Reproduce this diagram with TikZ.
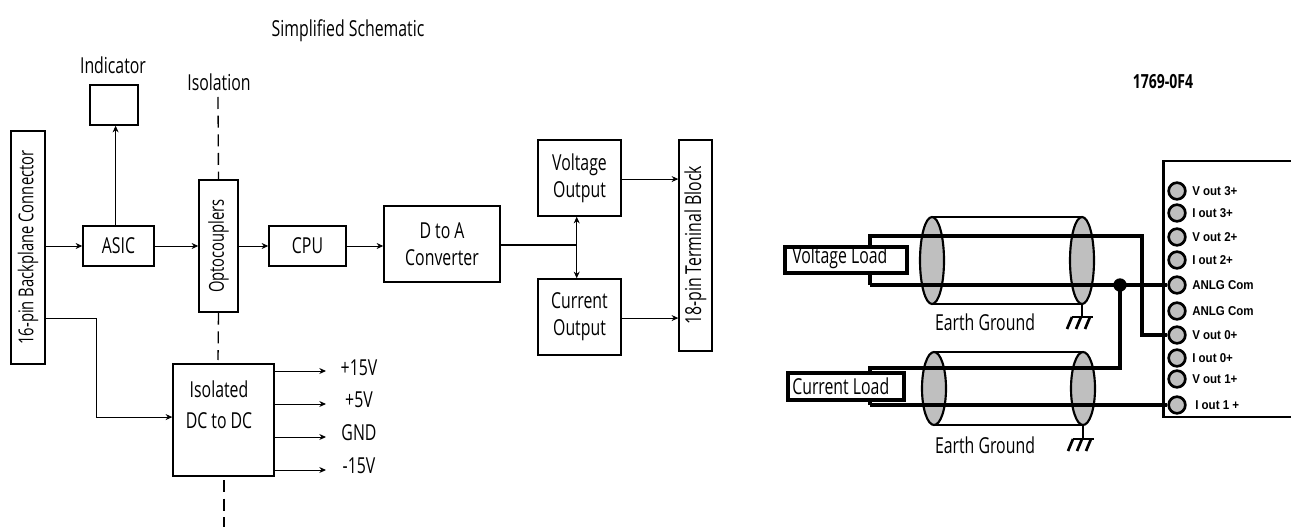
\documentclass[tikz,border=0pt]{standalone}
\usepackage{fontspec}
\setmainfont[FakeStretch=0.72]{Open Sans}
\newfontfamily\pinfont[FakeStretch=0.9]{Liberation Sans}
\usepackage{tikz}
\usetikzlibrary{arrows.meta,calc,positioning}
\tikzset{
  blockbox/.style={draw, line width=1.1pt, inner sep=0pt, align=center},
  boxsize/.style 2 args={minimum width=#1*0.75pt, minimum height=#2*0.75pt},
  flow/.style={-{Stealth[length=5pt,width=4.5pt]}, line width=0.7pt},
  isoline/.style={dash pattern=on 9pt off 5pt, line width=1pt},
  cablewire/.style={line width=2.6pt},
  shield/.style={line width=1.6pt},
  pin/.style={circle, draw, line width=2pt, fill=gray!50, minimum size=12.5pt, inner sep=0pt},
  pinlabel/.style={right, inner sep=0pt, font=\pinfont\bfseries\fontsize{9.6}{10}\selectfont},
  loadbox/.style={draw, line width=2.4pt, inner sep=0pt, fill=white}
}
\begin{document}
\begin{tikzpicture}[x=0.75pt, y=-0.75pt, >=Stealth, font=\fontsize{16.5}{19.5}\selectfont]
    \useasboundingbox (0,0) rectangle (1291,527);
    % title and free labels
    \node (title) at (348,31) {Simplified Schematic};
    \node (indlabel) at (113,65) {Indicator};
    \node (isolabel) at (219,82) {Isolation};
    % left side blocks
    \node[blockbox, boxsize={34}{233}, font=\fontsize{15.4}{18}\selectfont] (conn) at (28,247.5)
      {\rotatebox{90}{16-pin Backplane Connector}};
    \node[blockbox, boxsize={48}{40}] (indicator) at (114,105) {};
    \node[blockbox, boxsize={71}{40}] (asic) at (118.5,246) {ASIC};
    \node[blockbox, boxsize={39}{132}, font=\fontsize{15.4}{18}\selectfont] (opto) at (218.5,246)
      {\rotatebox{90}{\raisebox{3pt}{Optocouplers}}};
    \node[blockbox, boxsize={77}{40}] (cpu) at (307.5,246) {CPU};
    \node[blockbox, boxsize={101}{112}] (dcdc) at (223.5,420) {};
    \node[align=center, inner sep=0pt] (dcdctext) at (219,405)
      {Isolated\\[4pt]DC to DC};
    \node[blockbox, boxsize={116}{76}] (dac) at (442,244)
      {D to A\\[1pt]Converter};
    \node[blockbox, boxsize={83}{76}] (volt) at (579.5,178)
      {Voltage\\[1pt]Output};
    \node[blockbox, boxsize={83}{76}] (curr) at (579.5,317)
      {Current\\[1pt]Output};
    \node[blockbox, boxsize={33}{211}] (term) at (695.5,245.5)
      {\rotatebox{90}{18-pin Terminal Block}};
    % left side connectors
    \draw[flow] (conn.east |- asic.west) -- (asic.west);
    \draw[flow] ([xshift=1.2pt]indicator.south |- asic.north)
      -- ([xshift=1.2pt]indicator.south);
    \draw[flow] (asic.east) -- (opto.west);
    \draw[flow] (opto.east) -- (cpu.west);
    \draw[flow] (cpu.east) -- (dac.west |- cpu.east);
    \coordinate (bend) at (96.5,318);
    \draw[flow] (conn.east |- bend) -- (bend) |- ([yshift=2.2pt]dcdc.west);
    \coordinate (split) at (576.7,245);
    \draw[line width=1pt] (dac.east |- split) -- (split);
    \draw[flow] (split) -- (split |- volt.south);
    \draw[flow] (split) -- (split |- curr.north);
    \draw[flow] ([yshift=-0.8pt]volt.east) -- ([yshift=-0.8pt]term.west |- volt.east);
    \draw[flow] ([yshift=-0.8pt]curr.east) -- ([yshift=-0.8pt]term.west |- curr.east);
    % isolation barrier
    \coordinate (isotop) at (218,97);
    \coordinate (isomid) at (218,360);
    \coordinate (isolow) at (224,480);
    \coordinate (isoend) at (224,527);
    \draw[isoline] (isotop) -- (opto.north);
    \draw[isoline] (opto.south) -- (isomid);
    \draw[isoline] (isolow) -- (isoend);
    % supply outputs
    \foreach \vy/\ly/\vname/\vlbl in {371/368/a/{+15V}, 404/400/b/{+5V}, 437/433/c/GND, 470/466/d/{-15V}}{
      \coordinate (out\vname) at (326,\vy);
      \draw[flow] (dcdc.east |- out\vname) -- (out\vname);
      \node (lbl\vname) at (359,\ly) {\vlbl};
    }
    % right side
    \node[font=\fontsize{14.6}{17}\bfseries\selectfont] (model) at (1163,82) {1769-0F4};
    \draw[line width=2pt] (1291,161) -- (1163.5,161) -- (1163.5,417) -- (1291,417);
    \foreach \py/\pname/\plbl/\px in {191/a/V out 3+/1192, 213/b/I out 3+/1192, 237/c/V out 2+/1192,
      260/d/I out 2+/1192, 285/e/ANLG Com/1192, 311/f/ANLG Com/1192, 335/g/V out 0+/1192,
      358/h/I out 0+/1192, 379/i/V out 1+/1192, 405/j/I out 1 +/1195}{
      \node[pin] (pin\pname) at (1177,\py) {};
      \node[pinlabel] (plbl\pname) at (\px,\py) {\plbl};
    }
    % cable shields
    \foreach \cname/\ctop/\cbot/\cl/\cr in {up/217/304/932/1082, low/352/425/934/1083}{
      \draw[shield] (\cl,\ctop) -- (\cr,\ctop);
      \draw[shield] (\cl,\cbot) -- (\cr,\cbot);
      \coordinate (\cname left) at (\cl,{(\ctop+\cbot)/2});
      \coordinate (\cname right) at (\cr,{(\ctop+\cbot)/2});
    }
    % cable ends
    \foreach \cname/\cry in {up/43.5, low/36.5}{
      \fill[gray!50, draw=black, shield] (\cname left) ellipse (12 and \cry);
      \fill[gray!50, draw=black, shield] (\cname right) ellipse (12 and \cry);
    }
    % wires
    \coordinate (upa) at (870,236);
    \coordinate (upb) at (870,285);
    \coordinate (upturn) at (1142,236);
    \coordinate (lowa) at (870,368);
    \coordinate (lowb) at (870,405);
    \coordinate (dot) at (1120,285);
    \draw[cablewire] (upb) -- (upa) -- (upturn) |- (ping.west);
    \draw[cablewire] (upb) -- (pine.west);
    \draw[cablewire] (lowb) -- (lowa) -| (dot);
    \draw[cablewire] (lowb) -- (pinj.west);
    \fill (dot) circle (5pt);
    % loads
    \node[loadbox, boxsize={122}{26}] (vload) at (846,260) {};
    \node[right, inner sep=0pt] (vloadtext) at (792,258) {Voltage Load};
    \node[loadbox, boxsize={116}{27}] (iload) at (846,386.5) {};
    \node[right, inner sep=0pt] (iloadtext) at (792,386) {Current Load};
    % ground symbols
    \foreach \gname/\gx/\gy/\gb in {upg/1082/304/317, lowg/1083/425/439}{
      \coordinate (\gname) at (\gx,\gb);
      \draw[shield] (\gx,\gy) -- (\gname);
      \draw[line width=2pt] ($(\gname)+(-10,0)$) -- ($(\gname)+(11,0)$);
      \foreach \gt in {-10,-1,8}{
        \draw[line width=2pt] ($(\gname)+(\gt,0)$) -- ++(-5,12);
      }
    }
    \node (earthup) at (985,322) {Earth Ground};
    \node (earthlow) at (985,445) {Earth Ground};
\end{tikzpicture}
\end{document}
